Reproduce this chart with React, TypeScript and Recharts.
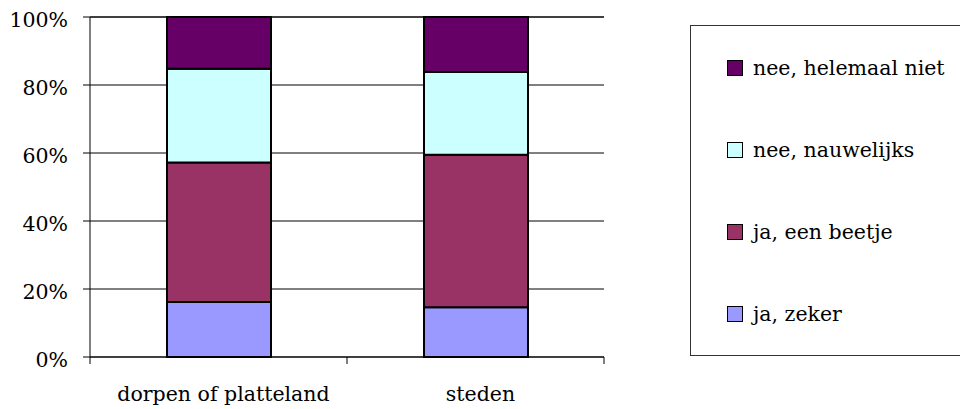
import { Bar, BarChart, XAxis, YAxis, CartesianGrid, Legend } from "recharts"

const categories = ["dorpen of platteland", "steden"]
const jaZeker = [16.2, 14.6]
const jaBeetje = [41.0, 44.9]
const neeNauwelijks = [27.6, 24.3]
const neeHelemaal = [15.2, 16.2]
const yTicks = [0, 20, 40, 60, 80, 100]

const series = [
  { key: "zeker", name: "ja, zeker", values: jaZeker, fill: "#9999FF" },
  { key: "beetje", name: "ja, een beetje", values: jaBeetje, fill: "#993366" },
  { key: "nauwelijks", name: "nee, nauwelijks", values: neeNauwelijks, fill: "#CCFFFF" },
  { key: "helemaal", name: "nee, helemaal niet", values: neeHelemaal, fill: "#660066" },
]

const data = categories.map((cat, i) => {
  const row: Record<string, string | number> = { cat }
  series.forEach((s) => (row[s.key] = s.values[i]))
  return row
})

const FONT = "'DejaVu Serif', serif"
const FS = 20.5

function CategoryTick(props: any) {
  const { x, y, payload, index, visibleTicksCount } = props
  const half = payload.offset ?? 0
  return (
    <g>
      <line x1={x - half} x2={x - half} y1={y} y2={y + 7} stroke="#000" />
      {index === visibleTicksCount - 1 && (
        <line x1={x + half} x2={x + half} y1={y} y2={y + 7} stroke="#000" />
      )}
      <text x={x + 5} y={y + 44} textAnchor="middle" fontFamily={FONT} fontSize={FS} fill="#000">
        {payload.value}
      </text>
    </g>
  )
}

// legend shows the stack top-down, so walk the series backwards
function LegendBox(props: any) {
  const payload = props.payload || []
  const items = [...series].reverse().map((s) => {
    const p = payload.find((e: any) => e.dataKey === s.key)
    return { label: p?.value ?? s.name, color: p?.color ?? s.fill }
  })
  return (
    <div
      style={{
        boxSizing: "border-box",
        width: 272,
        height: 331,
        border: "1px solid #333",
        paddingTop: 1,
        fontFamily: FONT,
        fontSize: FS,
        color: "#000",
        background: "#fff",
      }}
    >
      {items.map((item) => (
        <div key={item.label} style={{ height: 82, display: "flex", alignItems: "center" }}>
          <span
            style={{
              display: "inline-block",
              boxSizing: "border-box",
              width: 16,
              height: 16,
              marginLeft: 36,
              marginRight: 10,
              background: item.color,
              border: "1.5px solid #000",
            }}
          />
          <span>{item.label}</span>
        </div>
      ))}
    </div>
  )
}

export default function App() {
  return (
    <div style={{ position: "absolute", left: 0, top: 0, width: 960, height: 409, background: "#fff" }}>
      <BarChart width={960} height={409} data={data} margin={{ top: 17, right: 356, left: 0, bottom: 0 }}>
        <CartesianGrid vertical={false} stroke="#000" />
        <XAxis
          dataKey="cat"
          height={52}
          tickSize={0}
          tickMargin={0}
          tickLine={false}
          axisLine={{ stroke: "#000" }}
          tick={<CategoryTick />}
          interval={0}
        />
        <YAxis
          width={90}
          domain={[0, 100]}
          ticks={yTicks}
          tickFormatter={(v) => `${v}%`}
          tickSize={7}
          tickMargin={15}
          tickLine={{ stroke: "#000" }}
          axisLine={{ stroke: "#000" }}
          tick={{ fontFamily: FONT, fontSize: FS, fill: "#000", dy: 3 }}
        />
        <Legend
          layout="vertical"
          align="center"
          verticalAlign="middle"
          content={<LegendBox />}
          wrapperStyle={{ left: 690, top: 25, width: 272, height: 331 }}
        />
        {series.map((s) => (
          <Bar
            key={s.key}
            dataKey={s.key}
            name={s.name}
            stackId="a"
            fill={s.fill}
            stroke="#000"
            strokeWidth={2}
            barSize={104}
            legendType="square"
            isAnimationActive={false}
          />
        ))}
      </BarChart>
    </div>
  )
}
